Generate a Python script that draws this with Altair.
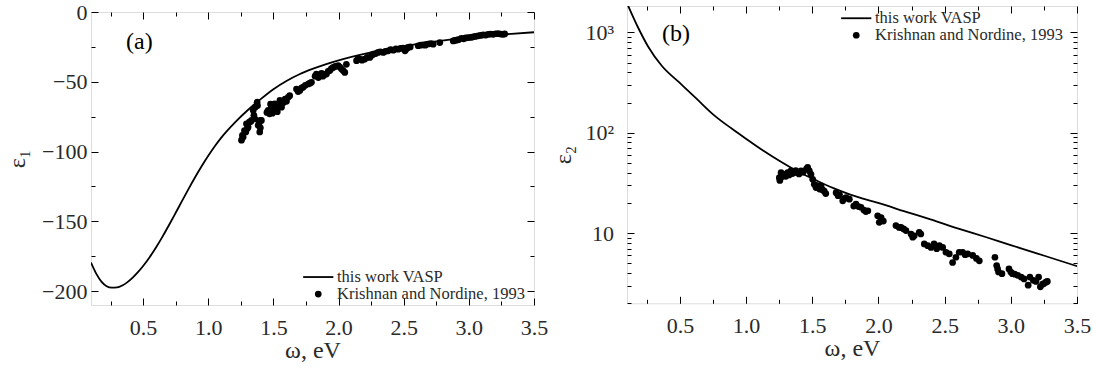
import altair as alt
import pandas as pd

FONT = "Liberation Serif"
TXT = "#2a2a2a"

LINE_LABEL = "this work VASP"
DOT_LABEL = "Krishnan and Nordine, 1993"

# ---------------- panel (a): eps1 ----------------
eps1_curve_w = [0.10, 0.14, 0.18, 0.22, 0.26, 0.30, 0.34, 0.38, 0.42, 0.46, 0.50, 0.55, 0.60, 0.65,
                0.70, 0.75, 0.80, 0.85, 0.90, 0.95, 1.00, 1.05, 1.10, 1.20, 1.30, 1.40, 1.50, 1.60,
                1.70, 1.80, 1.90, 2.00, 2.25, 2.50, 2.75, 3.00, 3.25, 3.50]
eps1_curve = [-179.6, -187.5, -193.2, -196.5, -197.6, -197.4, -196.0, -193.6, -190.4, -186.5, -182.0,
              -175.7, -168.6, -160.8, -152.5, -143.9, -135.2, -126.6, -118.3, -110.4, -103.0, -96.2,
              -90.0, -79.6, -70.6, -62.6, -55.3, -49.4, -44.6, -40.8, -37.5, -34.6, -28.9, -24.4,
              -21.0, -18.3, -16.2, -14.5]

eps1_data_w = [1.255, 1.262, 1.268, 1.278, 1.288, 1.293, 1.300, 1.306, 1.315, 1.325, 1.332, 1.345, 1.350,
               1.357, 1.362, 1.375, 1.378, 1.383, 1.390, 1.395, 1.398, 1.408, 1.400,
               1.450, 1.460, 1.470, 1.478, 1.485, 1.492, 1.498, 1.510, 1.520, 1.530, 1.540, 1.550, 1.562,
               1.575, 1.590, 1.600, 1.613, 1.625,
               1.677, 1.690, 1.703, 1.715, 1.728, 1.745, 1.767, 1.780, 1.792,
               1.820, 1.830, 1.845, 1.855, 1.870, 1.880, 1.893, 1.907, 1.920, 1.933, 1.945, 1.959, 1.975,
               1.997, 2.010, 2.023, 2.035, 2.048, 2.060,
               2.138, 2.150, 2.163, 2.180, 2.200, 2.220, 2.240, 2.255, 2.266, 2.285, 2.304, 2.320,
               2.343, 2.360, 2.381, 2.400, 2.420, 2.440, 2.458, 2.475, 2.496, 2.510, 2.520, 2.534, 2.550,
               2.611, 2.630, 2.650, 2.665, 2.675, 2.695, 2.713, 2.726, 2.777,
               2.880, 2.893, 2.905, 2.920, 2.943, 2.960, 2.975, 2.995, 3.015, 3.033, 3.050, 3.072, 3.090,
               3.110, 3.130, 3.148, 3.165, 3.187, 3.205, 3.225, 3.245, 3.263, 3.275]
eps1_data = [-91.9, -88.5, -89.6, -85.0, -86.0, -80.1, -83.5, -82.5, -79.0, -78.5, -77.7, -70.5, -74.0,
             -76.5, -68.0, -64.6, -67.0, -81.2, -79.5, -86.0, -77.7, -77.7, -83.0,
             -72.0, -70.5, -73.0, -66.0, -68.2, -72.5, -70.5, -65.8, -69.0, -71.5, -66.0, -63.4, -68.2,
             -65.0, -62.5, -64.0, -61.1, -60.0,
             -55.2, -57.0, -56.3, -54.5, -53.9, -52.5, -51.6, -51.0, -50.4,
             -46.0, -44.5, -47.0, -45.0, -44.0, -46.0, -44.8, -44.5, -42.5, -42.0, -40.5, -39.7, -39.0,
             -38.5, -39.5, -40.9, -42.0, -43.3, -37.5,
             -34.9, -33.5, -33.8, -34.5, -33.8, -32.5, -32.6, -31.0, -30.2, -29.8, -29.0, -28.5,
             -29.0, -28.2, -27.8, -27.0, -27.4, -26.5, -26.7, -26.0, -25.9, -27.8, -26.5, -25.4, -25.0,
             -24.2, -23.8, -23.5, -23.8, -23.1, -22.8, -22.6, -23.1, -21.9,
             -20.7, -20.3, -20.2, -19.8, -18.8, -19.2, -18.6, -18.3, -18.2, -17.8, -17.5, -17.1, -16.8,
             -16.4, -16.5, -16.0, -15.8, -16.0, -15.6, -15.5, -15.8, -16.0, -15.7]

# ---------------- panel (b): eps2 ----------------
eps2_curve_w = [0.10, 0.179, 0.258, 0.364, 0.495, 0.627, 0.759, 0.891, 0.996, 1.128, 1.26, 1.39, 1.52,
                1.655, 1.787, 1.998, 2.235, 2.393, 2.604, 2.815, 2.999, 3.184, 3.342, 3.50]
eps2_curve = [1950, 1150, 728, 462, 317, 217, 149, 110, 87.6, 66.4, 51.6, 41.1, 34.0,
              28.2, 24.2, 20.0, 15.9, 13.7, 11.1, 9.1, 7.6, 6.37, 5.46, 4.69]

eps2_data_w = [1.251, 1.255, 1.264, 1.270, 1.289, 1.300, 1.314, 1.325, 1.339, 1.350, 1.364, 1.375, 1.390,
               1.400, 1.415, 1.430, 1.455, 1.465, 1.478, 1.490, 1.503, 1.515, 1.528, 1.540, 1.555, 1.566,
               1.576, 1.590, 1.602, 1.680, 1.695, 1.706, 1.730, 1.742, 1.755, 1.780, 1.813, 1.830, 1.850,
               1.868, 1.890, 1.905, 1.920, 1.994, 2.006, 2.020, 2.037, 2.132, 2.156, 2.170, 2.190, 2.208,
               2.246, 2.259, 2.270, 2.308, 2.320, 2.346, 2.372, 2.397, 2.420, 2.440, 2.460, 2.485, 2.510,
               2.535, 2.560, 2.585, 2.610, 2.636, 2.655, 2.674, 2.712, 2.740, 2.762, 2.880, 2.893, 2.900,
               2.907, 2.933, 2.986, 3.000, 3.012, 3.030, 3.052, 3.078, 3.100, 3.131, 3.144, 3.170, 3.190,
               3.210, 3.223, 3.240, 3.250, 3.265, 3.276]
eps2_data = [35.7, 33.5, 40.1, 36.5, 38.6, 36.8, 40.1, 38.0, 41.6, 39.2, 40.1, 42.0, 40.1,
             38.8, 41.6, 40.5, 43.5, 45.3, 41.6, 38.6, 34.4, 30.6, 28.4, 29.8, 27.5, 29.5,
             27.1, 26.2, 24.8, 25.3, 23.6, 24.1, 21.0, 22.0, 22.6, 21.8, 18.6, 19.5, 18.4,
             18.1, 17.0, 16.4, 16.7, 14.9, 12.8, 14.3, 13.2, 11.9, 11.4, 11.4, 11.0, 10.6,
             9.8, 9.1, 9.4, 10.2, 9.8, 7.8, 7.5, 7.2, 7.8, 7.0, 7.5, 7.2, 6.45,
             6.2, 5.1, 5.75, 6.45, 6.45, 6.1, 6.2, 6.0, 5.6, 5.3, 5.75, 4.76, 4.4,
             4.1, 3.95, 4.4, 4.1, 3.95, 3.9, 3.8, 3.65, 3.5, 3.03, 3.65, 3.39, 3.3,
             3.65, 2.92, 3.1, 3.15, 3.25, 3.3]

# ---------------- ticks / labels ----------------
x_major = [0.5, 1.0, 1.5, 2.0, 2.5, 3.0, 3.5]
x_minor = [0.25, 0.75, 1.25, 1.75, 2.25, 2.75, 3.25]
y1_major = [0, -50, -100, -150, -200]
y1_minor = [-25, -75, -125, -175]
y2_major = [10, 100, 1000]
y2_minor = [2, 3, 4, 5, 6, 7, 8, 9, 20, 30, 40, 50, 60, 70, 80, 90,
            200, 300, 400, 500, 600, 700, 800, 900]

# legend symbol for the curve: a thin filled bar
LEG_PATH = "M-4.5,-0.27H4.5V0.27H-4.5Z"


def tick_axis(orient, values, size):
    return alt.Axis(orient=orient, values=values, labels=False, ticks=True, tickSize=size,
                    tickColor="black", tickWidth=1, domain=False, grid=False, offset=-size,
                    minExtent=0, title=None)


def panel(curve_w, curve_e, data_w, data_e, yscale, y_major, y_minor, y_title, y_kw,
          width, height, leg_x, leg_y, tag, tag_y):
    curve_df = pd.DataFrame({"w": curve_w, "e": curve_e})
    dots_df = pd.DataFrame({"w": data_w, "e": data_e, "series": DOT_LABEL})
    xs = alt.Scale(domain=[0.1, 3.5], nice=False, zero=False)

    x_lab = alt.Axis(orient="bottom", values=x_major, format=".1f", ticks=False, tickSize=0,
                     domain=False, grid=False, labelFont=FONT, labelFontSize=22, labelColor=TXT,
                     labelPadding=12, labelFlush=False, labelOverlap=False,
                     title="ω, eV", titleFont=FONT, titleFontSize=24, titleFontWeight="normal",
                     titleColor=TXT, titlePadding=0)
    y_lab = alt.Axis(orient="left", values=y_major, ticks=False, tickSize=0, domain=False,
                     grid=False, labelFont=FONT, labelFontSize=22, labelColor=TXT,
                     labelFlush=False, labelOverlap=False, title=y_title, titleFont=FONT,
                     titleFontSize=24, titleFontWeight="normal", titleColor=TXT, **y_kw)

    line = alt.Chart(curve_df).mark_line(color="black", strokeWidth=1.8, clip=True,
                                         interpolate="monotone").encode(
        x=alt.X("w:Q", scale=xs, axis=x_lab),
        y=alt.Y("e:Q", scale=yscale, axis=y_lab),
    )
    dots = alt.Chart(dots_df).mark_point(filled=True, size=45, color="black", opacity=1).encode(
        x=alt.X("w:Q", scale=xs, axis=tick_axis("bottom", x_major, 7)),
        y=alt.Y("e:Q", scale=yscale, axis=tick_axis("left", y_major, 7)),
        shape=alt.Shape("series:N",
                        scale=alt.Scale(domain=[LINE_LABEL, DOT_LABEL], range=[LEG_PATH, "circle"]),
                        legend=alt.Legend(title=None, orient="none", legendX=leg_x, legendY=leg_y,
                                          labelFont=FONT, labelFontSize=16.5, labelColor=TXT,
                                          labelLimit=400, symbolSize=45, symbolFillColor="black",
                                          symbolStrokeWidth=0, labelOffset=10.5, rowPadding=0,
                                          padding=0)),
    )

    def ghost(xa, ya):
        return alt.Chart(dots_df).mark_point(opacity=0, size=1).encode(
            x=alt.X("w:Q", scale=xs, axis=xa), y=alt.Y("e:Q", scale=yscale, axis=ya))

    g1 = ghost(tick_axis("bottom", x_minor, 4), tick_axis("left", y_minor, 4))
    g2 = ghost(tick_axis("top", x_major, 7), tick_axis("right", y_major, 7))
    g3 = ghost(tick_axis("top", x_minor, 4), tick_axis("right", y_minor, 4))

    tag_layer = alt.Chart(pd.DataFrame({"t": [tag]})).mark_text(
        align="left", baseline="middle", font=FONT, fontSize=24, color="black").encode(
        x=alt.value(35), y=alt.value(tag_y), text="t:N")

    return alt.layer(line, dots, g1, g2, g3, tag_layer).resolve_axis(
        x="independent", y="independent").properties(width=width, height=height)


left = panel(eps1_curve_w, eps1_curve, eps1_data_w, eps1_data,
             alt.Scale(domain=[-210, 0], nice=False, zero=False),
             y1_major, y1_minor, "ε₁",
             dict(labelPadding=4, minExtent=51, maxExtent=51, titlePadding=10.7),
             443, 293, 219, 256.8, "(a)", 30)

right = panel(eps2_curve_w, eps2_curve, eps2_data_w, eps2_data,
              alt.Scale(type="log", domain=[2, 1830], nice=False),
              y2_major, y2_minor, "ε₂",
              dict(labelPadding=13.5, minExtent=42, maxExtent=42, titlePadding=10,
                   labelExpr="datum.value == 10 ? '10' : datum.value == 100 ? '10²' : '10³'"),
              450, 297.3, 221, 4, "(b)", 28.3)

# small invisible strip above panel (a): its frame sits a little lower than that of (b)
spacer = alt.Chart(pd.DataFrame({"a": [0]})).mark_point(opacity=0).properties(
    width=443, height=5.3, view=alt.ViewBackground(stroke="transparent"))

left_col = alt.vconcat(spacer, left, spacing=0, bounds="flush").resolve_scale(
    shape="independent").resolve_legend(shape="independent")

chart = alt.hconcat(left_col, right, spacing=1, bounds="full").resolve_scale(
    shape="independent").resolve_legend(shape="independent").properties(
    padding={"left": 4, "top": 0, "right": 0, "bottom": 0}
).configure_view(stroke="black", strokeWidth=1.2).configure(font=FONT)

chart.save("out.html", embed_options={"renderer": "svg", "actions": False})
